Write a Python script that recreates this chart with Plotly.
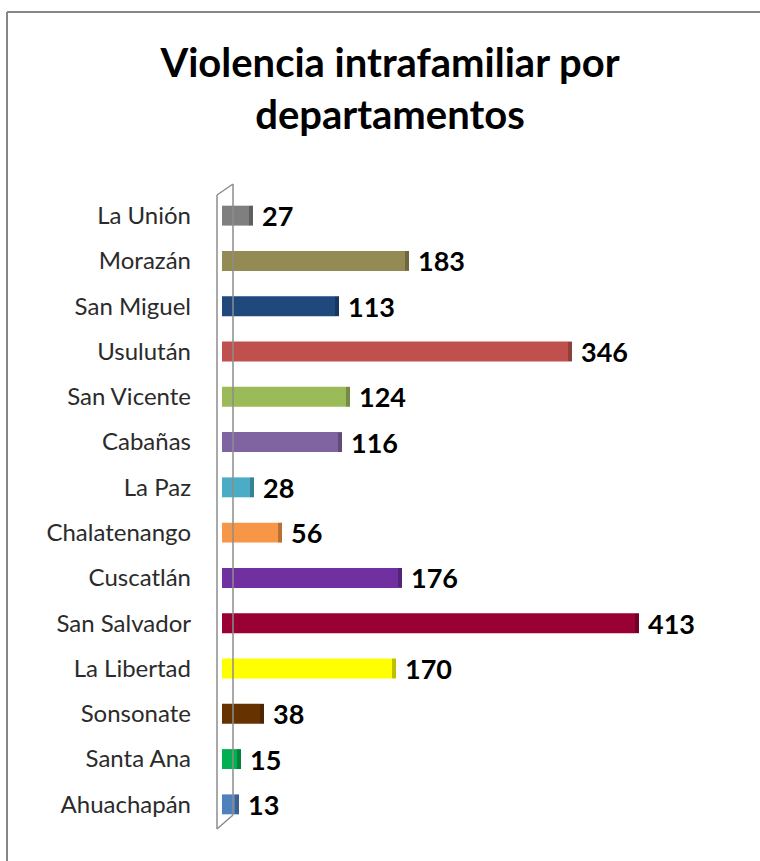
import plotly.graph_objects as go

departamentos = ["La Unión", "Morazán", "San Miguel", "Usulután", "San Vicente", "Cabañas",
                 "La Paz", "Chalatenango", "Cuscatlán", "San Salvador", "La Libertad",
                 "Sonsonate", "Santa Ana", "Ahuachapán"]
casos = [27, 183, 113, 346, 124, 116, 28, 56, 176, 413, 170, 38, 15, 13]
colores = ["#7f7f7f", "#948a54", "#1f497d", "#c0504d", "#9bbb59", "#8064a2", "#4bacc6",
           "#f79646", "#7030a0", "#990033", "#ffff00", "#663300", "#00b050", "#4f81bd"]
sombras = ["#5f5f5f", "#6f683f", "#17375e", "#90403a", "#748c43", "#604b7a", "#388195",
           "#b97034", "#542478", "#730026", "#bfbf00", "#4c2600", "#00843c", "#3b618e"]

W, H = 760, 861
L, R, T, B = 222, 88, 193, 34
fnt = "Lato, Carlito, Calibri, sans-serif"

fig = go.Figure()
fig.add_trace(go.Bar(
    y=departamentos, x=casos, orientation="h",
    marker=dict(color=colores, line=dict(width=0)),
    width=0.44, hoverinfo="x+y",
))
# darker side face (3D look)
fig.add_trace(go.Bar(
    y=departamentos, x=[4] * len(casos), base=casos, orientation="h",
    marker=dict(color=sombras, line=dict(width=0)),
    width=0.44, hoverinfo="skip",
))

annotations = []
for d, v in zip(departamentos, casos):
    annotations.append(dict(
        x=v, y=d, xref="x", yref="y", text=f"<b>{v}</b>", showarrow=False,
        xanchor="left", yanchor="middle", xshift=11,
        font=dict(family=fnt, size=27, color="#000000"),
    ))

def px(x):
    return (x - L) / (W - L - R)

def py(y):
    return (H - B - y) / (H - T - B)

line_style = dict(color="#8c8c8c", width=1.5)
shapes = [
    # 3D wall
    dict(type="line", xref="paper", yref="paper", x0=px(217), y0=py(195), x1=px(217), y1=py(829), line=line_style),
    dict(type="line", xref="paper", yref="paper", x0=px(233), y0=py(184), x1=px(233), y1=py(815), line=line_style),
    dict(type="line", xref="paper", yref="paper", x0=px(217), y0=py(195), x1=px(233), y1=py(184), line=line_style),
    dict(type="line", xref="paper", yref="paper", x0=px(217), y0=py(829), x1=px(233), y1=py(815), line=line_style),
    # chart frame
    dict(type="line", xref="paper", yref="paper", x0=px(7), y0=py(12), x1=px(762), y1=py(12),
         line=dict(color="#868686", width=2)),
    dict(type="line", xref="paper", yref="paper", x0=px(7), y0=py(12), x1=px(7), y1=py(863),
         line=dict(color="#868686", width=2)),
]

fig.update_layout(
    width=W, height=H,
    margin=dict(l=L, r=R, t=T, b=B),
    paper_bgcolor="white", plot_bgcolor="white",
    barmode="overlay",
    showlegend=False,
    title=dict(text="<b>Violencia intrafamiliar por<br>departamentos</b>",
               x=390 / W, xanchor="center", y=1 - 77 / H, yanchor="middle",
               font=dict(family=fnt, size=40, color="#000000")),
    xaxis=dict(range=[0, 450], visible=False, fixedrange=True),
    yaxis=dict(autorange="reversed", showline=False, showgrid=False, ticks="",
               ticklabelstandoff=30, fixedrange=True,
               tickfont=dict(family=fnt, size=24, color="#2b2b2b")),
    annotations=annotations,
    shapes=shapes,
)

fig.write_html("out.html", config={"displayModeBar": False},
               post_script="document.body.style.margin='0';document.body.style.overflow='hidden';")
